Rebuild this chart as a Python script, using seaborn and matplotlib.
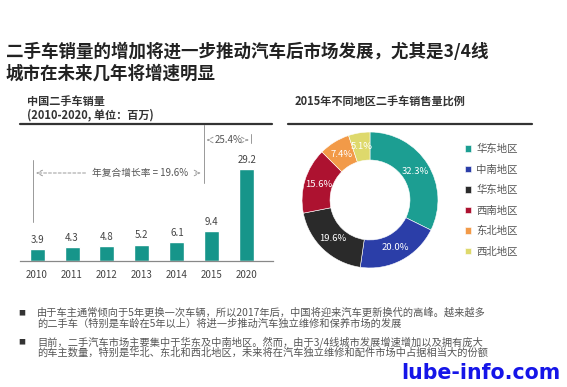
import matplotlib
matplotlib.use("Agg")
import matplotlib.pyplot as plt
import seaborn as sns
import pandas as pd

# Data
years = ["2010", "2011", "2012", "2013", "2014", "2015", "2020"]
sales = [3.9, 4.3, 4.8, 5.2, 6.1, 9.4, 29.2]
regions = ["华东地区", "中南地区", "华东地区", "西南地区", "东北地区", "西北地区"]
shares = [32.3, 20.0, 19.6, 15.6, 7.4, 5.1]
region_colors = ["#1c9e92", "#2b3ea8", "#2a2a2a", "#ad1230", "#f29a48", "#ded96c"]
bar_color = "#16958a"

bullets = [
    ["由于车主通常倾向于5年更换一次车辆，所以2017年后，中国将迎来汽车更新换代的高峰。越来越多",
     "的二手车（特别是车龄在5年以上）将进一步推动汽车独立维修和保养市场的发展"],
    ["目前，二手汽车市场主要集中于华东及中南地区。然而，由于3/4线城市发展增速增加以及拥有庞大",
     "的车主数量，特别是华北、东北和西北地区，未来将在汽车独立维修和配件市场中占据相当大的份额"],
]

sns.set_style("white")
plt.rcParams["font.family"] = ["Noto Sans CJK SC", "DejaVu Sans"]

W, H = 567, 387
fig = plt.figure(figsize=(W / 100, H / 100), dpi=100)


def fx(x):
    return x / W


def fy(y):
    return 1 - y / H


# Main title
fig.text(fx(6), fy(52), "二手车销量的增加将进一步推动汽车后市场发展，尤其是3/4线",
         fontsize=12.6, fontweight="bold", color="#222222", va="center")
fig.text(fx(6), fy(74), "城市在未来几年将增速明显",
         fontsize=12.6, fontweight="bold", color="#222222", va="center")

# Sub titles + rules
fig.text(fx(27), fy(101), "中国二手车销量", fontsize=8, fontweight="bold", color="#333333", va="center")
fig.text(fx(27), fy(115), "(2010-2020, 单位：百万)", fontsize=8, fontweight="bold", color="#333333", va="center")
fig.text(fx(295), fy(102), "2015年不同地区二手车销售量比例", fontsize=8, fontweight="bold", color="#333333", va="center")
fig.add_artist(plt.Line2D([fx(20), fx(272)], [fy(124), fy(124)], color="#333333", lw=1.6))
fig.add_artist(plt.Line2D([fx(288), fx(532)], [fy(124), fy(124)], color="#333333", lw=1.6))

# Bar chart
scale = 3.15  # px per unit
ax = fig.add_axes([fx(19.6), fy(261), fx(273) - fx(19.6), fy(125) - fy(261)])
df = pd.DataFrame({"year": years, "sales": sales})
sns.barplot(data=df, x="year", y="sales", color=bar_color, width=0.43, ax=ax, saturation=1)
ax.set_xlim(-0.5, 6.75)
ax.set_ylim(0, (261 - 125) / scale)
ax.bar_label(ax.containers[0], fmt="%.1f", padding=3, fontsize=7, color="#444444")
ax.set_xlabel("")
ax.set_ylabel("")
ax.set_yticks([])
for s in ["top", "right", "left"]:
    ax.spines[s].set_visible(False)
ax.spines["bottom"].set_color("#888888")
ax.spines["bottom"].set_linewidth(0.9)
ax.tick_params(axis="x", length=0, labelsize=7, labelcolor="#444444", pad=6.5)
ax.set_xticks([i + 0.5 for i in range(-1, 7)], minor=True)
ax.tick_params(axis="x", which="minor", length=2.5, color="#888888", direction="out")


def d(ypx):
    return (261 - ypx) / scale


def dx(xpx):
    return (xpx - 37) / 34.83


gray = "#999999"
x_l, x_m, x_r = dx(33), dx(203), dx(250)
ax.plot([x_l, x_l], [d(160), d(222)], color=gray, lw=0.7)
ax.plot([x_m, x_m], [d(125), d(183)], color=gray, lw=0.7)
ax.plot([x_r, x_r], [d(134), d(143)], color=gray, lw=0.7)
arrow = dict(arrowstyle="->", color=gray, lw=0.7, linestyle=(0, (3, 2)))
ax.annotate("", xy=(x_l, d(173)), xytext=(dx(88), d(173)), arrowprops=arrow)
ax.annotate("", xy=(x_m, d(173)), xytext=(dx(192), d(173)), arrowprops=arrow)
ax.text(dx(140), d(173), "年复合增长率 = 19.6%", fontsize=7, color="#555555", ha="center", va="center")
ax.annotate("", xy=(x_m, d(140)), xytext=(dx(212), d(140)), arrowprops=arrow)
ax.annotate("", xy=(x_r, d(140)), xytext=(dx(244), d(140)), arrowprops=arrow)
ax.text(dx(228), d(140), "25.4%", fontsize=7, color="#555555", ha="center", va="center")

# Donut
ax2 = fig.add_axes([fx(300), fy(270), 140 / W, 140 / H])
wedges, _, autotexts = ax2.pie(
    shares, colors=region_colors, startangle=90, counterclock=False, radius=0.971,
    wedgeprops=dict(width=0.4, edgecolor="white", linewidth=0.4),
    autopct="%.1f%%", pctdistance=0.79,
    textprops=dict(color="white", fontsize=6.8))
ax2.set_xlim(-1, 1)
ax2.set_ylim(-1, 1)
ax2.set_aspect("equal")
ax2.axis("off")

leg = fig.legend(wedges, regions, loc="upper left", bbox_to_anchor=(fx(465), fy(144)),
                 frameon=False, fontsize=7.5, handlelength=0.6, handleheight=0.6,
                 handletextpad=0.5, labelspacing=1.0, borderpad=0, borderaxespad=0)
for t in leg.get_texts():
    t.set_color("#555555")

# Bullets
rows = [(313, 324), (342, 353)]
for (y1, y2), lines in zip(rows, bullets):
    fig.text(fx(22), fy(y1), "■", fontsize=5, color="#333333", va="center", ha="center")
    fig.text(fx(37), fy(y1), lines[0], fontsize=7.35, color="#555555", va="center")
    fig.text(fx(37), fy(y2), lines[1], fontsize=7.35, color="#555555", va="center")

# Watermark
fig.text(fx(401), fy(373), "lube-info.com", fontsize=14.8, fontweight="bold",
         color="#1515e8", va="center", family="DejaVu Sans")

fig.savefig("out.png", dpi=100)
